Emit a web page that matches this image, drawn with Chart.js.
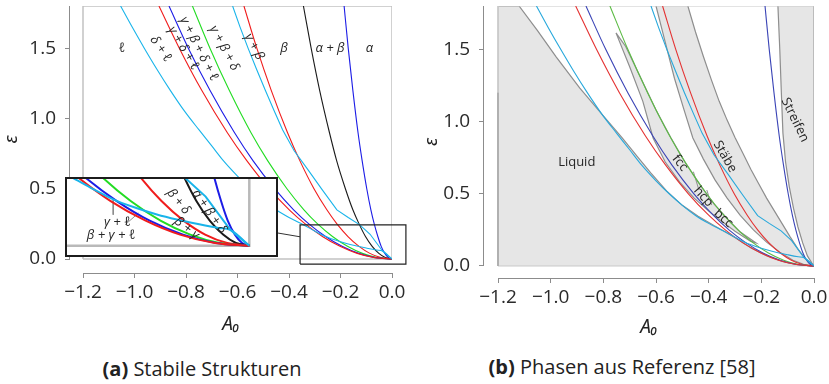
<!DOCTYPE html>
<html><head><meta charset="utf-8">
<script src="https://cdn.jsdelivr.net/npm/chart.js"></script>
<style>
html,body{margin:0;padding:0;background:#fff;}
#wrap{position:relative;width:829px;height:384px;overflow:hidden;background:#fff;}
canvas{position:absolute;display:block;}
#cA{left:0;top:0;}
#cB{left:420px;top:0;}
#insetBox{position:absolute;left:65px;top:177px;width:209px;height:76px;border:2px solid #1c1c1c;background:#fff;}
#cI{left:0;top:0;}
.cap{position:absolute;font-family:'Open Sans',sans-serif;font-size:20px;color:#222;white-space:nowrap;transform:translate(-50%,-50%);}
</style></head>
<body><div id="wrap">
<canvas id="cA" width="420" height="345"></canvas>
<canvas id="cB" width="409" height="345"></canvas>
<div id="insetBox"><canvas id="cI" width="209" height="76"></canvas></div>
<div class="cap" style="left:202px;top:368px"><b>(a)</b> Stabile Strukturen</div>
<div class="cap" style="left:622px;top:366px"><b>(b)</b> Phasen aus Referenz [58]</div>
</div>
<script>
// ---------- axis ticks ----------
const xTickValues = [-1.2, -1.0, -0.8, -0.6, -0.4, -0.2, 0.0];
const xTickLabels = ['−1.2', '−1.0', '−0.8', '−0.6', '−0.4', '−0.2', '0.0'];
const yTickValues = [0.0, 0.5, 1.0, 1.5];
const yTickLabels = ['0.0', '0.5', '1.0', '1.5'];
const frameX = [-1.2, 0.0];
const frameY = [0.0, 1.8];

// ---------- phase boundary curves (A0 read at these epsilon levels) ----------
const epsLevels = [1.8, 1.5, 1.2, 0.9, 0.7, 0.5, 0.35, 0.25, 0.16, 0.09, 0.04, 0.01, 0];
const red1A0   = [-0.905, -0.826, -0.739, -0.640, -0.564, -0.477, -0.399, -0.337, -0.270, -0.202, -0.135, -0.067, 0];
const blue1A0  = [-0.866, -0.791, -0.707, -0.612, -0.540, -0.456, -0.382, -0.323, -0.258, -0.194, -0.129, -0.065, 0];
const green1A0 = [-0.775, -0.707, -0.632, -0.548, -0.483, -0.408, -0.342, -0.289, -0.231, -0.173, -0.115, -0.058, 0];
const red2A0   = [-0.575, -0.525, -0.469, -0.406, -0.358, -0.303, -0.253, -0.214, -0.171, -0.128, -0.086, -0.043, 0];
const blackA0  = [-0.344, -0.314, -0.281, -0.243, -0.215, -0.181, -0.152, -0.128, -0.103, -0.077, -0.051, -0.026, 0];
const blue2A0  = [-0.186, -0.170, -0.152, -0.132, -0.116, -0.098, -0.082, -0.069, -0.055, -0.042, -0.028, -0.014, 0];
// cyan curves (A0, epsilon)
const cyan1Pts = [[-1.054,1.8],[-1.009,1.65],[-0.962,1.5],[-0.913,1.35],[-0.861,1.2],[-0.805,1.05],[-0.750,0.92],
  [-0.70,0.805],[-0.655,0.70],[-0.60,0.59],[-0.55,0.50],[-0.50,0.42],[-0.45,0.35],[-0.40,0.295],[-0.343,0.242],
  [-0.30,0.199],[-0.265,0.166],[-0.22,0.135],[-0.18,0.112],[-0.141,0.094],[-0.10,0.078],[-0.06,0.064],
  [-0.037,0.057],[0,0]];
const cyan2Pts = [[-0.619,1.8],[-0.59,1.65],[-0.559,1.5],[-0.526,1.35],[-0.492,1.2],[-0.459,1.06],[-0.425,0.92],
  [-0.38,0.77],[-0.326,0.634],[-0.27,0.49],[-0.214,0.349],[-0.17,0.295],[-0.125,0.243],[-0.085,0.176],[-0.037,0.057],[0,0]];

// ---------- reference phases (panel b), outlines as (A0, epsilon) ----------
const liquidBoundary = [[-1.2,1.8],[-1.12,1.8],[-1.05,1.63],[-0.98,1.45],[-0.89,1.233],[-0.80,1.04],[-0.73,0.89],
  [-0.67,0.755],[-0.62,0.645],[-0.56,0.52],[-0.50,0.42],[-0.44,0.345],[-0.38,0.28],[-0.30,0.198],[-0.24,0.127],
  [-0.18,0.071],[-0.12,0.032],[-0.06,0.008],[0,0]];
const closePackedWedge = [[-0.752,1.614],[-0.70,1.38],[-0.65,1.14],[-0.611,0.886],[-0.565,0.72],[-0.51,0.58],
  [-0.455,0.47],[-0.40,0.38],[-0.357,0.318],[-0.30,0.24],[-0.24,0.17],[-0.22,0.16],[-0.28,0.235],[-0.33,0.33],
  [-0.38,0.43],[-0.43,0.555],[-0.49,0.72],[-0.543,0.886],[-0.60,1.08],[-0.66,1.31],[-0.715,1.52],[-0.752,1.614]];
const wedgeSep1 = [[-0.458,0.653],[-0.439,0.538]];
const wedgeSep2 = [[-0.407,0.526],[-0.389,0.422]];
const rodsLeft = [[-0.600,1.8],[-0.565,1.55],[-0.53,1.3],[-0.495,1.09],[-0.46,0.886],[-0.42,0.74],[-0.376,0.596],
  [-0.33,0.47],[-0.28,0.35],[-0.23,0.25],[-0.18,0.165],[-0.13,0.095],[-0.08,0.04],[-0.04,0.012],[0,0]];
const rodsRight = [[-0.479,1.8],[-0.45,1.62],[-0.42,1.45],[-0.39,1.29],[-0.36,1.14],[-0.33,1.01],[-0.30,0.89],
  [-0.27,0.78],[-0.24,0.67],[-0.21,0.57],[-0.18,0.47],[-0.15,0.38],[-0.12,0.29],[-0.09,0.20],[-0.06,0.115],
  [-0.03,0.045],[0,0]];
const stripesBoundary = [[-0.137,1.8],[-0.130,1.5],[-0.124,1.2],[-0.118,0.92],[-0.108,0.72],[-0.094,0.55],
  [-0.078,0.40],[-0.061,0.27],[-0.043,0.16],[-0.025,0.07],[-0.008,0.02],[0,0]];
const liquidEdge = [[-1.2,0],[-1.2,1.2]];

// ---------- zoom window of panel (a) ----------
const zoomX = [-0.357, 0.054];
const zoomY = [-0.036, 0.243];
const connector = [[-0.447,0.186],[-0.357,0.158]];
const leader1 = [[-0.265,0.171],[-0.265,0.111]];
const leader2 = [[-0.242,0.075],[-0.216,0.117]];

// ---------- text labels ----------
const labelsA = [
  {t:'ℓ', x:-1.049, y:1.50, r:0},
  {t:'δ + ℓ', x:-0.898, y:1.495, r:56},
  {t:'γ + δ + ℓ', x:-0.810, y:1.50, r:59},
  {t:'γ + β + δ + ℓ', x:-0.750, y:1.495, r:63},
  {t:'γ + β + δ', x:-0.652, y:1.50, r:62},
  {t:'γ + β', x:-0.536, y:1.51, r:62},
  {t:'β', x:-0.419, y:1.50, r:0},
  {t:'α + β', x:-0.241, y:1.50, r:0},
  {t:'α', x:-0.088, y:1.50, r:0}
];
const labelsInset = [
  {t:'β + δ', x:-0.138, y:0.158, r:51},
  {t:'α + β + δ', x:-0.078, y:0.122, r:55},
  {t:'β + γ', x:-0.122, y:0.063, r:38},
  {t:'γ + ℓ', x:-0.257, y:0.083, r:0},
  {t:'β + γ + ℓ', x:-0.269, y:0.038, r:0}
];
const labelsB = [
  {t:'Liquid', x:-0.901, y:0.716, r:0},
  {t:'fcc', x:-0.509, y:0.713, r:52},
  {t:'hcp', x:-0.420, y:0.480, r:48},
  {t:'bcc', x:-0.344, y:0.330, r:42},
  {t:'Stäbe', x:-0.338, y:0.757, r:60},
  {t:'Streifen', x:-0.072, y:1.011, r:64}
];

// ---------- helpers ----------
const onLevels = xs => xs.map((x, i) => ({x: x, y: epsLevels[i]}));
const pts = arr => arr.map(p => ({x: p[0], y: p[1]}));
const rect = (xr, yr) => [[xr[0],yr[0]],[xr[1],yr[0]],[xr[1],yr[1]],[xr[0],yr[1]],[xr[0],yr[0]]];

const curveDefs = [
  {d: pts(cyan1Pts),    cL:'#19b4ea', cR:'#27a8dc', right:true,  mono:true},
  {d: onLevels(red1A0), cL:'#f01c1c', cR:'#e43232', right:true,  mono:true},
  {d: onLevels(blue1A0),cL:'#1c1ce6', cR:'#3a44b6', right:true,  mono:true},
  {d: onLevels(green1A0),cL:'#22dc22', cR:'#5cbb45', right:true, mono:true},
  {d: pts(cyan2Pts),    cL:'#19b4ea', cR:'#27a8dc', right:true,  mono:false},
  {d: onLevels(red2A0), cL:'#f01c1c', cR:'#e43232', right:true,  mono:true},
  {d: onLevels(blackA0),cL:'#1a1a1a', cR:'#1a1a1a', right:false, mono:true},
  {d: onLevels(blue2A0),cL:'#1c1ce6', cR:'#3a44b6', right:true,  mono:true}
];

function curveDS(c, color, w) {
  return {data: c.d, showLine: true, pointRadius: 0, borderColor: color, borderWidth: w, fill: false,
    tension: 0, cubicInterpolationMode: c.mono ? 'monotone' : 'default', order: 1};
}
function lineDS(arr, color, w, extra) {
  return Object.assign({data: pts(arr), showLine: true, pointRadius: 0, borderColor: color, borderWidth: w,
    fill: false, tension: 0, order: 2}, extra || {});
}

const FONT = "'Open Sans', 'DejaVu Sans', sans-serif";
const GREEK = "italic 13px 'Open Sans', 'DejaVu Sans', sans-serif";

function textPlugin(id, labels, font) {
  return {id: id, afterDatasetsDraw(chart) {
    const {ctx, scales} = chart;
    ctx.save();
    ctx.fillStyle = '#262626'; ctx.textAlign = 'center'; ctx.textBaseline = 'middle';
    for (const L of labels) {
      ctx.save();
      ctx.translate(scales.x.getPixelForValue(L.x), scales.y.getPixelForValue(L.y));
      ctx.rotate(L.r * Math.PI / 180);
      ctx.font = font;
      ctx.fillText(L.t, 0, 0);
      ctx.restore();
    }
    ctx.restore();
  }};
}
const axisLinePlugin = {id: 'axisLines', afterDraw(chart) {
  const {ctx, chartArea, scales} = chart;
  if (!scales.x.options.display) return;
  ctx.save(); ctx.strokeStyle = '#8c8c8c'; ctx.lineWidth = 1;
  ctx.beginPath();
  const yb = Math.round(chartArea.bottom) + 0.5;
  ctx.moveTo(scales.x.getPixelForValue(frameX[0]), yb); ctx.lineTo(scales.x.getPixelForValue(frameX[1]), yb);
  const xl = Math.round(chartArea.left) - 0.5;
  ctx.moveTo(xl, scales.y.getPixelForValue(frameY[0])); ctx.lineTo(xl, scales.y.getPixelForValue(frameY[1]));
  ctx.stroke(); ctx.restore();
}};

function scalesCfg(xmin, ymin, yWidth, xHeight, titlePadBottom) {
  return {
    x: {type: 'linear', min: xmin, max: 0, bounds: 'data',
      afterBuildTicks: s => { s.ticks = xTickValues.map(v => ({value: v})); },
      afterFit: s => { s.height = xHeight; s.paddingLeft = 0; s.paddingRight = 0; },
      ticks: {autoSkip: false, maxRotation: 0, minRotation: 0, padding: 3, color: '#2a2a2a',
        font: {family: FONT, size: 19}, callback: (v, i) => xTickLabels[i]},
      grid: {display: true, drawOnChartArea: false, drawTicks: true, tickLength: 5, color: '#8c8c8c', lineWidth: 1},
      border: {display: false},
      title: {display: true, text: 'A₀', color: '#222', font: {family: "'Noto Sans', 'DejaVu Sans', sans-serif", size: 19, style: 'italic'},
        padding: {top: 0, bottom: titlePadBottom}}
    },
    y: {type: 'linear', min: ymin, max: 1.8, bounds: 'data',
      afterBuildTicks: s => { s.ticks = yTickValues.map(v => ({value: v})); },
      afterFit: s => { s.width = yWidth; s.paddingTop = 0; s.paddingBottom = 0; },
      ticks: {autoSkip: false, padding: 9, color: '#2a2a2a', font: {family: FONT, size: 19},
        callback: (v, i) => yTickLabels[i]},
      grid: {display: true, drawOnChartArea: false, drawTicks: true, tickLength: 5, color: '#8c8c8c', lineWidth: 1},
      border: {display: false},
      title: {display: true, text: 'ε', color: '#222', font: {family: "'Noto Sans', 'DejaVu Sans', sans-serif", size: 19, style: 'italic'},
        padding: {top: 0, bottom: 0}}
    }
  };
}
const commonOpts = {responsive: false, animation: false, devicePixelRatio: 1, events: [],
  plugins: {legend: {display: false}, tooltip: {enabled: false}}};

// ---------- panel (a) ----------
const dsA = [lineDS(rect(frameX, frameY), '#c2c2c2', 1.5, {order: 5})];
curveDefs.forEach(c => dsA.push(curveDS(c, c.cL, 1.1)));
dsA.push(lineDS(rect(zoomX, zoomY), '#222', 1.2, {clip: false, order: 0}));
dsA.push(lineDS(connector, '#333', 1, {order: 0}));
new Chart(document.getElementById('cA'), {
  type: 'scatter',
  data: {datasets: dsA},
  options: Object.assign({}, commonOpts, {
    layout: {padding: {left: 0, top: 6, right: 28, bottom: 0}},
    scales: scalesCfg(-1.2505, -0.0996, 70, 72, 9)
  }),
  plugins: [textPlugin('labelsA', labelsA, GREEK), axisLinePlugin]
});

// ---------- inset ----------
const dsI = [lineDS([[zoomX[0] - 0.05, 0], [0, 0], [0, zoomY[1] + 0.05]], '#b9b9b9', 2.5, {order: 5})];
curveDefs.forEach(c => dsI.push(curveDS(c, c.cL, 2)));
dsI.push(lineDS(leader1, '#8c8c8c', 1, {order: 3}));
dsI.push(lineDS(leader2, '#8c8c8c', 1, {order: 3}));
new Chart(document.getElementById('cI'), {
  type: 'scatter',
  data: {datasets: dsI},
  options: Object.assign({}, commonOpts, {
    layout: {padding: 0},
    scales: {
      x: {type: 'linear', display: false, min: -0.355, max: 0.052, bounds: 'data'},
      y: {type: 'linear', display: false, min: -0.033, max: 0.239, bounds: 'data'}
    }
  }),
  plugins: [textPlugin('labelsI', labelsInset, GREEK)]
});

// ---------- panel (b) ----------
const FILL = '#e6e6e6', EDGE = '#8e8e8e';
const dsB = [
  lineDS(liquidBoundary, EDGE, 1.2, {fill: 'origin', backgroundColor: FILL, order: 20}),
  lineDS(closePackedWedge, EDGE, 1.2, {fill: 'shape', backgroundColor: FILL, order: 19}),
  lineDS(rodsLeft.concat(rodsRight.slice().reverse()), EDGE, 1.2, {fill: 'shape', backgroundColor: FILL, order: 18}),
  lineDS(stripesBoundary.concat([[0, 1.8]]), EDGE, 1.2, {fill: 'shape', backgroundColor: FILL, order: 17}),
  lineDS(rect(frameX, frameY), '#c8c8c8', 1, {order: 16}),
  lineDS(liquidEdge, '#b0b0b0', 2, {order: 15}),
  lineDS(wedgeSep1, EDGE, 1, {order: 4}),
  lineDS(wedgeSep2, EDGE, 1, {order: 4})
];
curveDefs.filter(c => c.right).forEach(c => dsB.push(curveDS(c, c.cR, 1.1)));
new Chart(document.getElementById('cB'), {
  type: 'scatter',
  data: {datasets: dsB},
  options: Object.assign({}, commonOpts, {
    layout: {padding: {left: 0, top: 6, right: 15, bottom: 0}},
    scales: scalesCfg(-1.2532, -0.0831, 64, 67, 6)
  }),
  plugins: [textPlugin('labelsB', labelsB, "13px 'Open Sans', 'DejaVu Sans', sans-serif"), axisLinePlugin]
});
</script>
</body></html>
